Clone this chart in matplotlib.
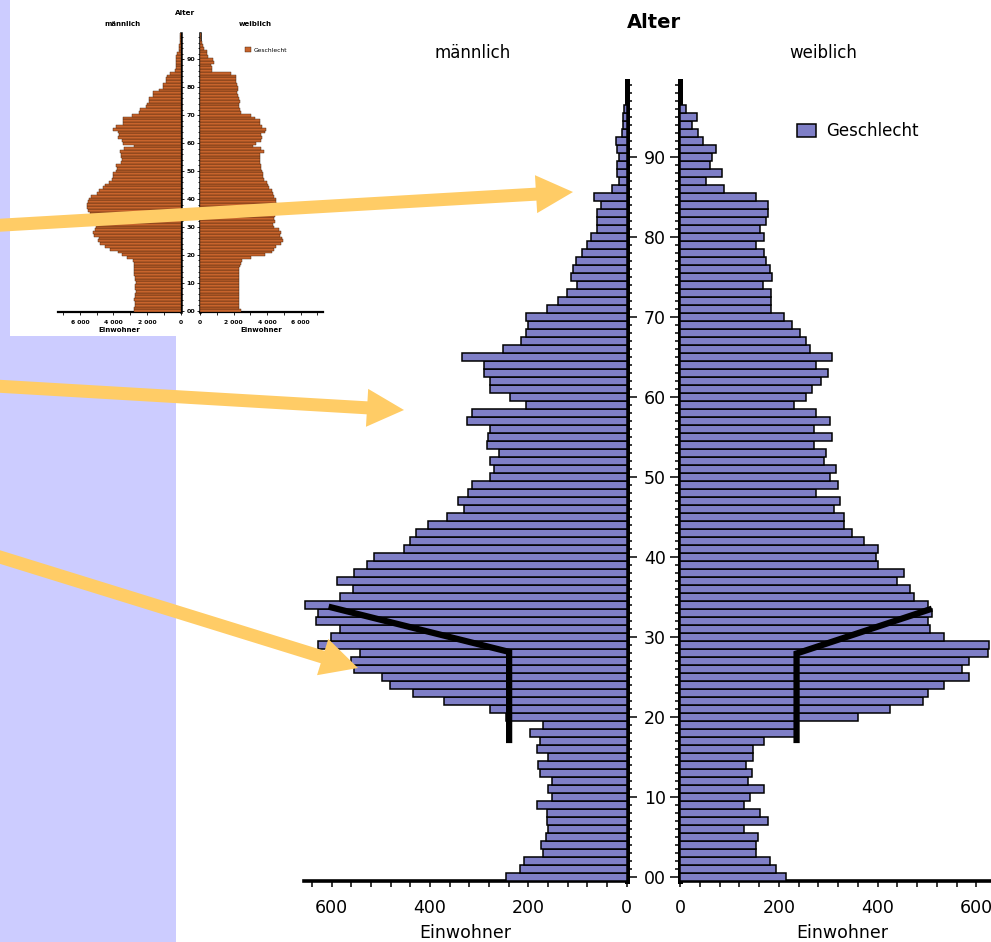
import matplotlib
matplotlib.use("Agg")
import matplotlib.pyplot as plt
import numpy as np
from matplotlib.patches import Rectangle, FancyArrow
from matplotlib.ticker import MultipleLocator, FixedLocator, FuncFormatter

plt.rcParams["font.family"] = ["DejaVu Sans"]

W, H = 991, 942

# === Daten (Einwohner je Altersjahr 0..99) ===
alter = np.arange(100)

maennlich = [246, 217, 208, 171, 175, 164, 161, 163, 163, 183,
             151, 159, 151, 176, 180, 159, 183, 176, 196, 171,
             246, 278, 371, 435, 481, 497, 554, 560, 542, 627,
             602, 582, 631, 628, 653, 582, 557, 589, 554, 528,
             513, 452, 440, 428, 403, 366, 330, 342, 322, 315,
             277, 269, 277, 260, 285, 282, 277, 325, 315, 204,
             237, 277, 277, 290, 290, 334, 252, 215, 204, 200,
             204, 163, 140, 122, 101, 114, 110, 103, 90, 81,
             73, 60, 60, 60, 53, 66, 29, 15, 20, 20,
             15, 20, 22, 10, 8, 8, 5, 0, 0, 0]

weiblich = [214, 194, 182, 154, 154, 157, 129, 179, 162, 129,
            142, 170, 137, 146, 133, 148, 148, 170, 232, 235,
            360, 425, 493, 502, 534, 586, 571, 586, 623, 625,
            534, 506, 502, 510, 502, 473, 465, 440, 453, 401,
            396, 401, 372, 348, 332, 332, 311, 324, 275, 319,
            303, 315, 291, 295, 271, 308, 271, 303, 275, 230,
            255, 268, 286, 300, 275, 308, 263, 255, 243, 227,
            210, 185, 185, 185, 168, 187, 182, 174, 170, 154,
            170, 162, 175, 179, 179, 154, 90, 53, 86, 61,
            64, 73, 46, 37, 24, 34, 13, 0, 0, 0]

# kleines Vergleichsbild oben links
inset_maennlich = [2750, 2750, 2700, 2700, 2750, 2700, 2700, 2650, 2700, 2700,
                   2650, 2700, 2700, 2750, 2750, 2750, 2800, 2800, 2850, 3200,
                   3500, 3750, 4200, 4500, 4800, 4900, 4850, 5150, 5200, 5100,
                   5050, 5000, 5100, 5250, 5300, 5400, 5500, 5550, 5550, 5500,
                   5450, 5350, 5000, 4850, 4600, 4500, 4250, 4100, 4000, 4050,
                   3850, 3800, 3850, 3550, 3500, 3550, 3550, 3600, 3350, 2750,
                   3450, 3500, 3700, 3650, 3700, 4050, 3850, 3400, 3450, 3400,
                   2900, 2450, 2400, 2050, 2000, 1850, 1850, 1650, 1650, 1300,
                   1050, 1050, 850, 850, 800, 650, 350, 250, 250, 250,
                   250, 250, 200, 100, 100, 100, 50, 50, 30, 20]

inset_weiblich = [2450, 2350, 2350, 2300, 2300, 2350, 2300, 2300, 2350, 2300,
                  2350, 2300, 2350, 2350, 2300, 2350, 2400, 2450, 2500, 3050,
                  3850, 4300, 4400, 4550, 4850, 4950, 4900, 4750, 4800, 4700,
                  4400, 4350, 4450, 4400, 4450, 4500, 4550, 4600, 4600, 4550,
                  4500, 4400, 4350, 4300, 4100, 4050, 4000, 3800, 3750, 3750,
                  3700, 3650, 3650, 3550, 3600, 3550, 3600, 3800, 3650, 3150,
                  3350, 3650, 3700, 3650, 3850, 3950, 3700, 3550, 3550, 3250,
                  3050, 2450, 2400, 2350, 2350, 2400, 2350, 2250, 2200, 2250,
                  2250, 2200, 2150, 2150, 2150, 1850, 700, 700, 650, 850,
                  800, 500, 400, 400, 250, 200, 100, 80, 50, 30]

# Markierungslinien (Einwohner, Alter)
linie_m_x = [606, 239, 239]
linie_m_y = [33.75, 28.1, 16.7]
linie_w_x = [510, 236, 236]
linie_w_y = [33.5, 27.9, 16.7]

# Pfeile in Bildpixeln: Start, Spitze
pfeile = [((-5, 225.5), (573, 192)),
          ((-5, 386), (404, 410)),
          ((-5, 555.5), (358, 668))]

BALKEN = "#7f7fc7"
LAVENDEL = "#ccccff"
ORANGE = "#ffcc66"
INSET_FARBE = "#c8642c"
INSET_KANTE = "#3c1e0a"


def px_box(x0, y0, x1, y1):
    return [x0 / W, 1 - y1 / H, (x1 - x0) / W, (y1 - y0) / H]


def fx(x):
    return x / W


def fy(y):
    return 1 - y / H


fig = plt.figure(figsize=(W / 100, H / 100), dpi=100)
fig.patch.set_facecolor("white")

# === Hintergrund ===
bg = fig.add_axes([0, 0, 1, 1], zorder=0)
bg.set_xlim(0, W)
bg.set_ylim(H, 0)
bg.axis("off")
bg.add_patch(Rectangle((0, 0), 176, H, color=LAVENDEL, lw=0))
bg.add_patch(Rectangle((10, 0), 320, 336, color="white", lw=0))


def style_paar(ax_l, ax_r, xmax, spine_v, spine_h, major_len, minor_len, tick_w,
               xmaj, xmin, ymin_step, xfmt, xsize, ysize, ypad, xpad, bold):
    weight = "bold" if bold else "normal"
    for ax in (ax_l, ax_r):
        ax.set_ylim(-0.5, 99.5)
        ax.patch.set_visible(False)
        ax.spines["top"].set_visible(False)
        ax.spines["bottom"].set_linewidth(spine_h)
        ax.spines["bottom"].set_zorder(1)
        ax.yaxis.set_major_locator(MultipleLocator(10))
        ax.yaxis.set_minor_locator(MultipleLocator(ymin_step))
        ax.xaxis.set_major_locator(FixedLocator(xmaj))
        ax.xaxis.set_minor_locator(MultipleLocator(xmin))
        ax.xaxis.set_major_formatter(FuncFormatter(xfmt))
        ax.tick_params(axis="x", which="both", direction="out", length=minor_len + 0.8,
                       width=tick_w, labelsize=xsize, pad=xpad)
        ax.tick_params(axis="y", which="major", direction="out", length=major_len, width=tick_w)
        ax.tick_params(axis="y", which="minor", direction="out", length=minor_len, width=tick_w)
        for lab in ax.get_xticklabels():
            lab.set_fontweight(weight)
    ax_l.set_xlim(xmax, 0)
    ax_r.set_xlim(0, xmax)
    ax_l.spines["left"].set_visible(False)
    ax_r.spines["right"].set_visible(False)
    ax_l.spines["right"].set_linewidth(spine_v)
    ax_r.spines["left"].set_linewidth(spine_v)
    ax_l.yaxis.tick_right()
    ax_l.tick_params(axis="y", which="both", labelright=False)
    ax_r.yaxis.set_major_formatter(FuncFormatter(lambda v, p: f"{int(v):02d}"))
    ax_r.tick_params(axis="y", labelsize=ysize, pad=ypad)
    for lab in ax_r.get_yticklabels():
        lab.set_fontweight(weight)


# === Hauptdiagramm ===
ax_m = fig.add_axes(px_box(304, 80.7, 626.7, 880.7), zorder=2)
ax_w = fig.add_axes(px_box(680, 80.7, 1004, 880.7), zorder=2)

ax_m.barh(alter, maennlich, height=1.0, color=BALKEN, edgecolor="black", linewidth=1.1, zorder=3)
bars_w = ax_w.barh(alter, weiblich, height=1.0, color=BALKEN, edgecolor="black", linewidth=1.1, zorder=3)

style_paar(ax_m, ax_w, 656, spine_v=3.6, spine_h=2.6, major_len=7.2, minor_len=3.6, tick_w=1.1,
           xmaj=[0, 200, 400, 600], xmin=40, ymin_step=1, xfmt=lambda v, p: f"{int(v)}",
           xsize=12.5, ysize=12.5, ypad=3.0, xpad=8.5, bold=False)
for ax in (ax_m, ax_w):
    ax.set_xlabel("Einwohner", fontsize=12.5, labelpad=5)

ax_m.plot(linie_m_x, linie_m_y, color="black", lw=4.5, solid_joinstyle="miter",
          solid_capstyle="butt", zorder=6, clip_on=False)
ax_w.plot(linie_w_x, linie_w_y, color="black", lw=4.5, solid_joinstyle="miter",
          solid_capstyle="butt", zorder=6, clip_on=False)

fig.text(fx(653.5), fy(23), "Alter", fontsize=14, fontweight="bold", ha="center", va="center")
fig.text(fx(472.5), fy(53), "männlich", fontsize=12, ha="center", va="center")
fig.text(fx(823), fy(53), "weiblich", fontsize=12, ha="center", va="center")

fig.legend(handles=[bars_w], labels=["Geschlecht"], loc="center left",
           bbox_to_anchor=(fx(797), fy(131)), frameon=False, fontsize=12,
           handlelength=1.15, handleheight=0.85, handletextpad=0.6,
           borderpad=0, borderaxespad=0)

# === Vergleichsbild oben links ===
ax_im = fig.add_axes(px_box(58, 32.8, 180.5, 312.1), zorder=3)
ax_iw = fig.add_axes(px_box(200, 32.8, 322.5, 312.1), zorder=3)
ax_im.barh(alter, inset_maennlich, height=1.0, color=INSET_FARBE, edgecolor=INSET_KANTE,
           linewidth=0.3, zorder=3)
bars_iw = ax_iw.barh(alter, inset_weiblich, height=1.0, color=INSET_FARBE, edgecolor=INSET_KANTE,
                     linewidth=0.3, zorder=3)
style_paar(ax_im, ax_iw, 7300, spine_v=1.8, spine_h=1.6, major_len=2.5, minor_len=1.2, tick_w=0.6,
           xmaj=[0, 2000, 4000, 6000], xmin=1000, ymin_step=2,
           xfmt=lambda v, p: f"{int(v):,}".replace(",", " "),
           xsize=4.3, ysize=4.6, ypad=1.0, xpad=3.5, bold=True)
for ax in (ax_im, ax_iw):
    ax.set_xlabel("Einwohner", fontsize=5, fontweight="bold", labelpad=1.5)

fig.text(fx(185), fy(13), "Alter", fontsize=5.2, fontweight="bold", ha="center", va="center")
fig.text(fx(122), fy(23.5), "männlich", fontsize=5, fontweight="bold", ha="center", va="center")
fig.text(fx(255), fy(23.5), "weiblich", fontsize=5, fontweight="bold", ha="center", va="center")
fig.legend(handles=[bars_iw], labels=["Geschlecht"], loc="center left",
           bbox_to_anchor=(fx(245), fy(50)), frameon=False, fontsize=4.3,
           handlelength=1.0, handleheight=0.8, handletextpad=0.5,
           borderpad=0, borderaxespad=0)

# === Pfeile ===
fg = fig.add_axes([0, 0, 1, 1], zorder=10)
fg.set_xlim(0, W)
fg.set_ylim(H, 0)
fg.axis("off")
for (x0, y0), (x1, y1) in pfeile:
    fg.add_patch(FancyArrow(x0, y0, x1 - x0, y1 - y0, width=13, head_width=38,
                            head_length=37, length_includes_head=True,
                            color=ORANGE, lw=0))

plt.savefig("out.png", dpi=100)
plt.close()
